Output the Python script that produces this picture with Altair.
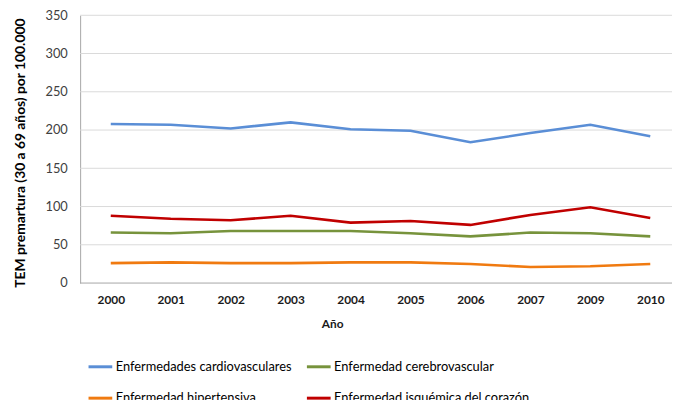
import altair as alt
import pandas as pd

years = ["2000", "2001", "2002", "2003", "2004", "2005", "2006", "2007", "2009", "2010"]
series_names = [
    "Enfermedades cardiovasculares",
    "Enfermedad hipertensiva",
    "Enfermedad cerebrovascular",
    "Enfermedad isquémica del corazón",
]
cardio = [208, 207, 202, 210, 201, 199, 184, 196, 207, 192]
hiper = [26, 27, 26, 26, 27, 27, 25, 21, 22, 25]
cerebro = [66, 65, 68, 68, 68, 65, 61, 66, 65, 61]
isquemica = [88, 84, 82, 88, 79, 81, 76, 89, 99, 85]
colors = ["#5A8ED6", "#F07A10", "#77933C", "#C00000"]
y_ticks = [0, 50, 100, 150, 200, 250, 300, 350]

rows = []
for name, vals in zip(series_names, [cardio, hiper, cerebro, isquemica]):
    for y, v in zip(years, vals):
        rows.append({"Año": y, "Valor": v, "Serie": name})
df = pd.DataFrame(rows)

grid_df = pd.DataFrame({"Valor": [t for t in y_ticks if t > 0]})
base_df = pd.DataFrame({"Valor": [t for t in y_ticks if t == 0]})

FONT = "Lato"
yscale = alt.Scale(domain=[0, 350], nice=False)
y_axis = alt.Axis(
    title="TEM premartura (30  a 69  años) por 100.000",
    values=y_ticks,
    ticks=False,
    grid=False,
    domainColor="#A6A6A6",
    labelFont=FONT,
    labelFontSize=13,
    labelColor="#404040",
    labelPadding=13,
    titleFont=FONT,
    titleFontSize=14,
    titleFontWeight="bold",
    titleColor="#000000",
    titleAngle=270,
    titleX=-60,
    titleY=139,
    titleBaseline="middle",
    titleAlign="center",
)

grid = alt.Chart(grid_df).mark_rule(color="#D9D9D9", strokeWidth=1).encode(
    y=alt.Y("Valor:Q", scale=yscale, axis=y_axis)
)
base = alt.Chart(base_df).mark_rule(color="#A6A6A6", strokeWidth=1).encode(
    y=alt.Y("Valor:Q", scale=yscale, axis=y_axis)
)

lines = alt.Chart(df).mark_line(strokeWidth=2.6).encode(
    x=alt.X(
        "Año:O",
        sort=years,
        scale=alt.Scale(type="point", padding=0, range=[31, 577]),
        axis=alt.Axis(
            title="Año",
            labelAngle=0,
            ticks=False,
            grid=False,
            domain=False,
            labelFont=FONT,
            labelFontSize=12,
            labelFontWeight="bold",
            labelColor="#1a1a1a",
            labelPadding=12,
            titleFont=FONT,
            titleFontSize=12,
            titleFontWeight="bold",
            titleColor="#1a1a1a",
            titleX=255,
            titleY=41,
            titleBaseline="middle",
            titleAlign="center",
        ),
    ),
    y=alt.Y("Valor:Q", scale=yscale, axis=y_axis),
    color=alt.Color(
        "Serie:N",
        scale=alt.Scale(domain=series_names, range=colors),
        legend=alt.Legend(
            title=None,
            orient="none",
            legendX=7,
            legendY=342,
            columns=2,
            columnPadding=8,
            rowPadding=11,
            symbolType="stroke",
            symbolSize=576,
            symbolStrokeWidth=3,
            labelFont=FONT,
            labelFontSize=13,
            labelColor="#000000",
            labelOffset=2,
            labelLimit=400,
        ),
    ),
)

chart = alt.layer(grid, base, lines).properties(
    width=599,
    height=271,
    autosize=alt.AutoSizeParams(type="none"),
    padding={"left": 73, "top": 5, "right": 0, "bottom": 116},
).configure_view(stroke=None)

chart.save("out.html", embed_options={"renderer": "svg", "actions": False})
